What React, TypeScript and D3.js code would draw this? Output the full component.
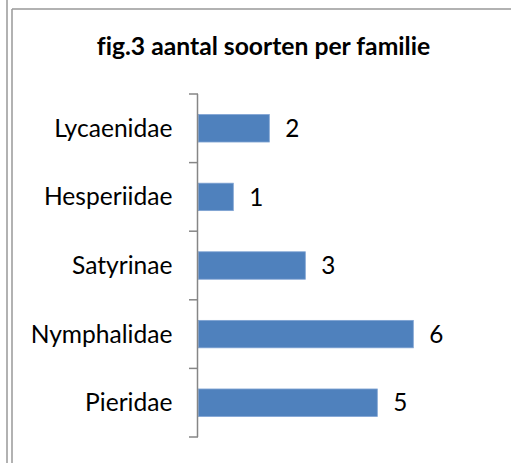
import React from "react";
import * as d3 from "d3";

const categories = ["Lycaenidae", "Hesperiidae", "Satyrinae", "Nymphalidae", "Pieridae"];
const values = [2, 1, 3, 6, 5];
const title = "fig.3 aantal soorten per familie";

const W = 511;
const H = 463;

export default function App() {
  const y = d3.scaleBand<string>().domain(categories).range([94, 437]).paddingInner(0.6).paddingOuter(0.3);
  const x = d3.scaleLinear().domain([0, 7]).range([197.3, 449.3]);
  const step = y.step();
  const tickYs = d3.range(categories.length + 1).map((i) => 94 + i * step);
  const font = "Lato, sans-serif";
  const noLig = { fontVariantLigatures: "none" as const, fontFeatureSettings: "'liga' 0" };
  return (
    <svg width={W} height={H} style={{ position: "absolute", left: 0, top: 0, background: "#fff" }}>
      <rect x={0} y={0} width={W} height={H} fill="#fff" />
      {/* borders */}
      <line x1={7} y1={0} x2={7} y2={H} stroke="#999" strokeWidth={1.5} />
      <line x1={12} y1={9} x2={12} y2={H} stroke="#999" strokeWidth={1.5} />
      <line x1={12} y1={9} x2={W} y2={9} stroke="#999" strokeWidth={1.5} />
      <text x={263.5} y={55} textAnchor="middle" fontFamily={font} fontWeight="bold" fontSize={24.7} fill="#000" style={noLig}>
        {title}
      </text>
      {categories.map((c, i) => {
        const cy = y(c)! + y.bandwidth() / 2;
        return (
          <g key={c}>
            <rect
              x={x(0) + 1}
              y={y(c)!}
              width={x(values[i]) - x(0) - 1}
              height={y.bandwidth()}
              fill="#4F81BD"
              stroke="#7EA2D2"
              strokeWidth={0.8}
            />
            <text x={x(values[i]) + 16} y={cy + 8.6} fontFamily={font} fontSize={24.3} fill="#000">
              {values[i]}
            </text>
            <text x={172.5} y={cy + 8.5} textAnchor="end" fontFamily={font} fontSize={24.6} fill="#000" style={noLig}>
              {c}
            </text>
          </g>
        );
      })}
      <line x1={197.5} y1={94} x2={197.5} y2={437} stroke="#868686" strokeWidth={1.5} />
      {tickYs.map((t, i) => (
        <line key={i} x1={189} y1={t} x2={198} y2={t} stroke="#868686" strokeWidth={1.5} />
      ))}
    </svg>
  );
}
